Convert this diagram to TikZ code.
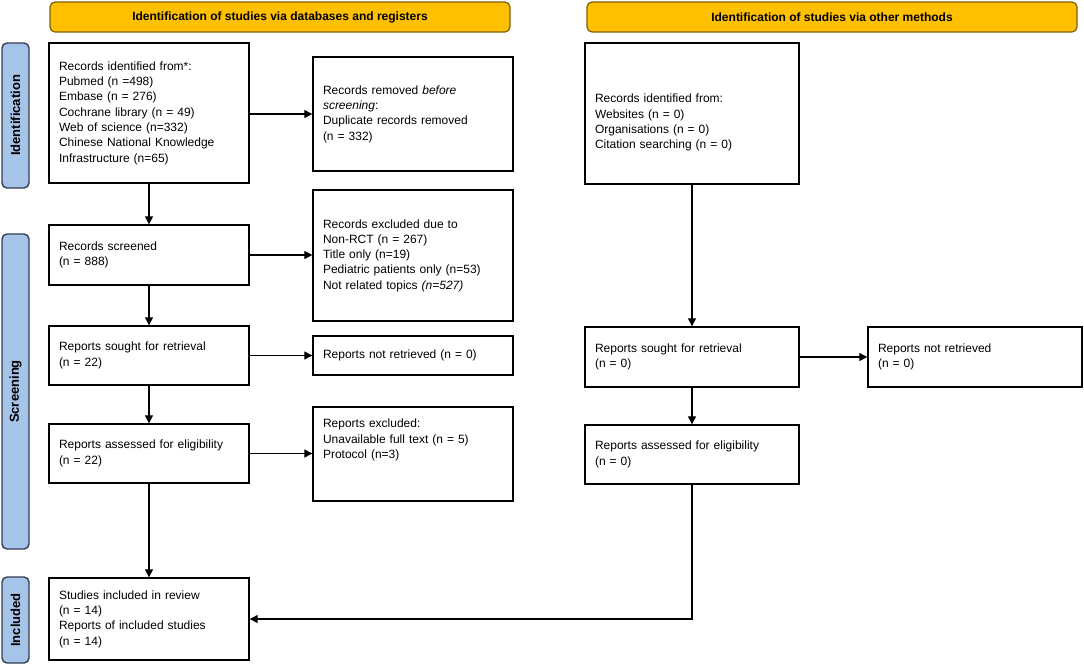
\documentclass[tikz,border=0pt]{standalone}
\usepackage{fontspec}
\setmainfont{Liberation Sans}
\usetikzlibrary{arrows.meta}
\definecolor{bannerfill}{HTML}{FFC000}
\definecolor{bannerdraw}{HTML}{7F6000}
\definecolor{sidefill}{HTML}{A6C4E8}
\definecolor{sidedraw}{HTML}{2F3E52}
\tikzset{
  box/.style={draw=black, line width=1.4pt, fill=white, rectangle, inner xsep=10pt, inner ysep=0pt,
    align=left, font=\fontsize{12}{15.3}\selectfont, minimum width=200pt, text width=180pt},
  wbox/.style={box, minimum width=214pt, text width=194pt},
  banner/.style={draw=bannerdraw, line width=1.2pt, fill=bannerfill, rounded corners=5pt,
    minimum height=30pt, font=\bfseries\fontsize{12}{14}\selectfont, inner sep=0pt},
  side/.style={draw=sidedraw, line width=1.4pt, fill=sidefill, rounded corners=5pt, rotate=90,
    minimum height=27pt, font=\bfseries\fontsize{13}{15}\selectfont, inner sep=0pt},
  arr/.style={line width=1.3pt, -{Triangle[length=8pt,width=8pt]}},
  ln/.style={line width=1.3pt}
}
\begin{document}
\begin{tikzpicture}[x=1pt,y=-1pt]
\useasboundingbox (0,0) rectangle (1084,665);
% banners
\node[banner, minimum width=460pt] (ban1) at (280,17) {Identification of studies via databases and registers};
\node[banner, minimum width=490pt] (ban2) at (832,17) {Identification of studies via other methods};
% side labels
\node[side, minimum width=145pt] (sid1) at (15.5,115.5) {Identification};
\node[side, minimum width=315pt] (sid2) at (15.5,391.5) {Screening};
\node[side, minimum width=86pt] (sid3) at (15.5,620) {Included};
% left column
\node[box, minimum height=140pt] (b1) at (149,113) {Records identified from*:\\Pubmed (n =498)\\Embase (n = 276)\\Cochrane library (n = 49)\\Web of science (n=332)\\Chinese National Knowledge\\Infrastructure (n=65)};
\node[box, minimum height=114pt] (rem) at (413,114) {Records removed \textit{before}\\\textit{screening}:\\Duplicate records removed\\(n = 332)};
\node[box, minimum height=60pt] (scr) at (149,255) {Records screened\\(n = 888)};
\node[box, minimum height=131pt] (exc) at (413,255.5) {Records excluded due to\\Non-RCT (n = 267)\\Title only (n=19)\\Pediatric patients only (n=53)\\Not related topics \textit{(n=527)}};
\node[box, minimum height=59pt] (sought) at (149,355.5) {Reports sought for retrieval\\(n = 22)};
\node[box, minimum height=39pt] (notret) at (413,355.5) {Reports not retrieved (n = 0)};
\node[box, minimum height=59pt] (assess) at (149,453.5) {Reports assessed for eligibility\\(n = 22)};
\node[box, minimum height=94pt] (repexc) at (413,454) {Reports excluded:\\Unavailable full text (n = 5)\\Protocol (n=3)\\~\\~};
\node[box, minimum height=82pt] (incl) at (149,619) {Studies included in review\\(n = 14)\\Reports of included studies\\(n = 14)};
% right column
\node[wbox, minimum height=141pt] (o1) at (692,113.5) {~\\[12pt]Records identified from:\\Websites (n = 0)\\Organisations (n = 0)\\Citation searching (n = 0)};
\node[wbox, minimum height=60pt] (osought) at (692,357) {Reports sought for retrieval\\(n = 0)};
\node[wbox, minimum height=60pt] (onotret) at (975,357) {Reports not retrieved\\(n = 0)};
\node[wbox, minimum height=59pt] (oassess) at (692,454.5) {Reports assessed for eligibility\\(n = 0)};
% connectors
\draw[arr] (b1.east |- rem.west) -- (rem.west);
\draw[arr] (b1.south) -- (scr.north);
\draw[arr] (scr.east) -- (exc.west |- scr.east);
\draw[arr] (scr.south) -- (sought.north);
\draw[arr] (sought.east) -- (notret.west);
\draw[arr] (sought.south) -- (assess.north);
\draw[arr] (assess.east) -- (repexc.west |- assess.east);
\draw[arr] (assess.south) -- (incl.north);
\draw[arr] (o1.south) -- (osought.north);
\draw[arr] (osought.east) -- (onotret.west);
\draw[arr] (osought.south) -- (oassess.north);
\draw[arr] (oassess.south) -- (oassess.south |- incl.east) -- (incl.east);
\end{tikzpicture}
\end{document}
